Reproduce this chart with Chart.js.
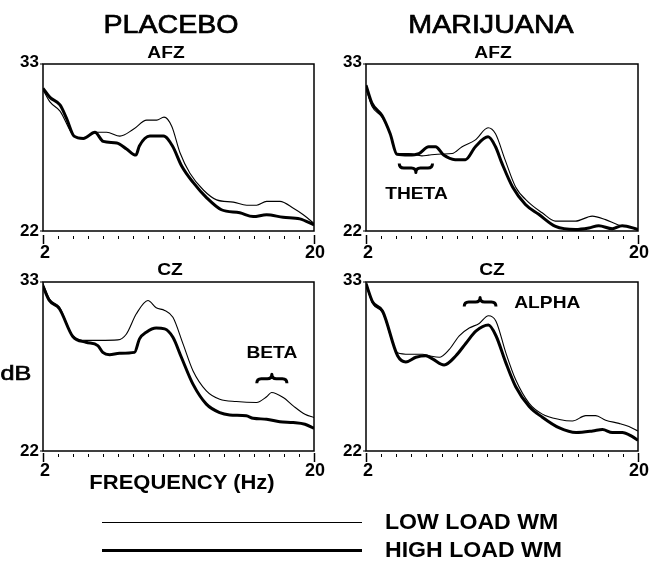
<!DOCTYPE html>
<html><head><meta charset="utf-8">
<script src="https://cdn.jsdelivr.net/npm/chart.js@4/dist/chart.umd.min.js"></script>
<style>
html,body{margin:0;padding:0;background:#fff;width:658px;height:566px;overflow:hidden}
#wrap{position:relative;width:658px;height:566px}
canvas{position:absolute;left:0;top:0}
.t{position:absolute;white-space:nowrap;font-family:"Liberation Sans",Arial,sans-serif;color:#000;line-height:1}
.heavy{-webkit-text-stroke:0.7px #000}
</style></head><body><div id="wrap"></div>
<script>
// ---- data ----
const xMin = 2, xMax = 20, yMin = 22, yMax = 33;
const xTickValues = [2,3,4,5,6,7,8,9,10,11,12,13,14,15,16,17,18,19,20];
const xTickLabels = ['2','20'];
const yTickLabels = ['22','33'];
const seriesNames = ['LOW LOAD WM','HIGH LOAD WM'];

const placeboAfzLowHz  = [2,2.46,3.13,4.06,4.68,5.56,6.23,7.11,8.0,8.89,9.55,10.04,10.55,11.1,11.76,12.65,13.53,14.64,15.53,16.19,16.85,17.74,18.63,19.29,20];
const placeboAfzLowDb  = [31.3,30.5,29.9,28.25,28.1,28.5,28.5,28.25,28.7,29.3,29.3,29.5,28.9,27.15,25.8,24.7,24.05,23.9,23.7,23.7,23.95,23.95,23.5,23.07,22.5];
const placeboAfzHighHz = [2,2.46,3.13,3.57,4.06,4.68,5.45,6.0,6.9,7.55,8.17,8.4,9.1,10.0,10.6,11.2,11.97,12.86,13.85,15.07,15.96,16.85,17.95,19.06,20];
const placeboAfzHighDb = [31.4,30.8,30.3,29.4,28.25,28.1,28.5,27.9,27.8,27.4,27.0,27.6,28.25,28.25,27.6,26.3,25.2,24.2,23.4,23.2,22.95,23.07,22.9,22.8,22.4];

const marijuanaAfzLowHz  = [2,2.4,3.06,3.6,4.05,4.83,5.7,6.15,7.03,7.7,8.36,9.24,10.08,10.57,11.2,11.9,12.8,13.66,14.54,15.86,16.97,17.85,18.7,19.4,20];
const marijuanaAfzLowDb  = [31.37,30.2,29.5,28.4,27.1,27.1,26.95,27.0,27.07,27.1,27.55,28.0,28.8,28.4,26.7,24.9,23.85,23.2,22.65,22.65,22.98,22.75,22.4,22.3,22.05];
const marijuanaAfzHighHz = [2,2.4,3.06,3.6,4.05,4.83,5.5,6.15,6.6,7.14,7.9,8.58,9.24,10.08,10.57,11.0,11.7,12.55,13.43,14.54,15.86,16.75,17.4,18.3,18.95,20];
const marijuanaAfzHighDb = [31.6,30.4,29.6,28.4,27.05,27.0,27.1,27.55,27.55,27.0,26.7,26.7,27.55,28.2,27.55,26.45,24.9,23.75,23.1,22.3,22.1,22.2,22.35,22.15,22.35,22.1];

const placeboCzLowHz  = [2,2.42,3.09,3.98,4.86,5.75,6.97,7.53,8.2,8.97,9.52,10.08,10.63,11.3,11.96,12.85,13.74,14.85,16.18,16.85,17.18,17.96,18.62,19.4,20];
const placeboCzLowDb  = [32.9,31.9,31.37,29.5,29.2,29.2,29.23,29.6,30.93,31.8,31.32,31.15,30.7,28.97,27.23,25.92,25.37,25.22,25.16,25.53,25.81,25.48,24.94,24.39,24.18];
const placeboCzHighHz = [2,2.42,3.09,3.98,4.86,5.64,5.97,6.42,7.08,8.08,8.41,8.86,9.52,10.08,10.63,11.19,11.96,12.85,13.74,14.4,15.5,15.96,16.85,17.73,18.62,19.4,20];
const placeboCzHighDb = [32.72,31.8,31.26,29.45,29.08,28.86,28.42,28.27,28.36,28.42,29.3,29.73,30.0,29.95,29.4,28.1,26.35,25.05,24.5,24.35,24.29,24.13,24.07,23.9,23.85,23.74,23.48];

const marijuanaCzLowHz  = [2,2.44,3.1,4.09,4.86,5.74,6.19,6.85,7.5,8.17,8.83,9.49,10.1,10.6,11.25,11.9,12.8,13.67,14.8,15.66,16.54,17.2,17.86,18.74,19.4,20];
const marijuanaCzLowDb  = [32.8,31.6,31.0,28.4,28.3,28.3,28.2,28.1,28.6,29.5,30.0,30.3,30.8,30.45,28.4,26.65,25.1,24.4,24.05,23.95,24.3,24.3,24.0,23.8,23.6,23.3];
const marijuanaCzHighHz = [2,2.44,3.1,4.09,4.64,5.3,5.96,6.4,7.17,7.95,8.6,9.27,10.1,10.6,11.25,11.9,12.8,13.67,14.8,15.9,17.0,17.65,18.3,18.96,19.6,20];
const marijuanaCzHighDb = [32.9,31.7,31.1,28.2,27.8,28.1,28.2,28.0,27.6,28.2,29.0,29.8,30.2,29.5,27.75,26.2,24.9,24.2,23.5,23.2,23.3,23.4,23.2,23.2,22.95,22.7];

// band annotations: [label, fromHz, toHz, braceDb, labelHz, labelDb, tip direction]
const thetaBand = ['THETA', 4.2, 6.4, 26.15, 5.34, 24.4, 1];
const betaBand  = ['BETA', 16.2, 18.2, 26.7, 17.2, 28.35, -1];
const alphaBand = ['ALPHA', 8.5, 10.6, 31.7, 14.0, 31.6, -1];

// ---- layout ----
const W = 658, H = 566;
const FONT = '"Liberation Sans", Arial, sans-serif';
const wrap = document.getElementById('wrap');

function pts(xs, ys){ return xs.map((x,i)=>({x:x, y:ys[i]})); }

function stretchText(ctx, text, x, y, font, sx, align){
  ctx.save();
  ctx.font = font;
  ctx.textBaseline = 'middle';
  ctx.textAlign = align || 'center';
  ctx.translate(x, y);
  ctx.scale(sx, 1);
  ctx.fillStyle = '#000';
  ctx.fillText(text, 0, 0);
  ctx.restore();
}

function brace(ctx, x1, x2, y, d){
  const h = 4.5, mid = (x1+x2)/2;
  ctx.save();
  ctx.strokeStyle = '#000';
  ctx.lineWidth = 3;
  ctx.lineJoin = 'round';
  ctx.beginPath();
  ctx.moveTo(x1, y - d*h);
  ctx.quadraticCurveTo(x1, y, x1 + h, y);
  ctx.lineTo(mid - h, y);
  ctx.quadraticCurveTo(mid, y, mid, y + d*h);
  ctx.quadraticCurveTo(mid, y, mid + h, y);
  ctx.lineTo(x2 - h, y);
  ctx.quadraticCurveTo(x2, y, x2, y - d*h);
  ctx.stroke();
  ctx.restore();
}

const framePlugin = {
  id: 'frame',
  afterDatasetsDraw(chart, args, opts){
    const ctx = chart.ctx, a = chart.chartArea;
    const xs = chart.scales.x, ys = chart.scales.y;
    ctx.save();
    ctx.strokeStyle = '#000';
    ctx.lineWidth = 1.5;
    ctx.strokeRect(a.left, a.top, a.right - a.left, a.bottom - a.top);
    const g = opts.tickGap;
    xTickValues.forEach(v=>{
      const px = Math.round(xs.getPixelForValue(v)) + 0.5;
      const major = (v === xMin || v === xMax);
      ctx.beginPath();
      ctx.lineWidth = major ? 1.5 : 1;
      ctx.moveTo(px, a.bottom + g - (major ? 1 : 0));
      ctx.lineTo(px, a.bottom + g + (major ? 8 : 3));
      ctx.stroke();
    });
    const xl = [xMin, xMax];
    xl.forEach((v,i)=>{
      stretchText(ctx, xTickLabels[i], xs.getPixelForValue(v) + (i===0?2:1), a.bottom + g + 17, 'bold 18px ' + FONT, 1.0);
    });
    const yl = [yMin, yMax];
    yl.forEach((v,i)=>{
      const py = ys.getPixelForValue(v);
      ctx.beginPath(); ctx.lineWidth = 1;
      ctx.moveTo(a.left - 3, py); ctx.lineTo(a.left, py); ctx.stroke();
      stretchText(ctx, yTickLabels[i], a.left - 4, py - (i===1?2:0), 'bold 17px ' + FONT, 1.0, 'right');
    });
    const b = opts.band;
    if (b){
      brace(ctx, xs.getPixelForValue(b[1]), xs.getPixelForValue(b[2]), ys.getPixelForValue(b[3]), b[6]);
      stretchText(ctx, b[0], xs.getPixelForValue(b[4]), ys.getPixelForValue(b[5]), 'bold 17px ' + FONT, 1.13);
    }
    ctx.restore();
  }
};

function makePanel(box, low, high, band, tickGap){
  const c = document.createElement('canvas');
  c.width = W; c.height = H;
  c.style.width = W + 'px'; c.style.height = H + 'px';
  wrap.appendChild(c);
  return new Chart(c, {
    type: 'line',
    data: { datasets: [
      { label: seriesNames[0], data: low, borderColor: '#000', borderWidth: 1.1, pointRadius: 0, cubicInterpolationMode: 'monotone', fill: false },
      { label: seriesNames[1], data: high, borderColor: '#000', borderWidth: 3, pointRadius: 0, cubicInterpolationMode: 'monotone', fill: false }
    ]},
    options: {
      responsive: false, animation: false, devicePixelRatio: 1,
      layout: { padding: { left: box[0], top: box[2], right: W - box[1], bottom: H - box[3] } },
      scales: {
        x: { type: 'linear', min: xMin, max: xMax, display: false },
        y: { type: 'linear', min: yMin, max: yMax, display: false }
      },
      plugins: { legend: { display: false }, tooltip: { enabled: false }, frame: { band: band, tickGap: tickGap } }
    },
    plugins: [framePlugin]
  });
}

makePanel([43, 314, 64, 231], pts(placeboAfzLowHz, placeboAfzLowDb), pts(placeboAfzHighHz, placeboAfzHighDb), null, 5);
makePanel([366, 638, 64, 231], pts(marijuanaAfzLowHz, marijuanaAfzLowDb), pts(marijuanaAfzHighHz, marijuanaAfzHighDb), thetaBand, 5);
makePanel([43, 314, 282, 451], pts(placeboCzLowHz, placeboCzLowDb), pts(placeboCzHighHz, placeboCzHighDb), betaBand, 3);
makePanel([366, 638, 282, 451], pts(marijuanaCzLowHz, marijuanaCzLowDb), pts(marijuanaCzHighHz, marijuanaCzHighDb), alphaBand, 3);

// ---- page text ----
function txt(s, cx, cy, size, weight, sx, align, cls){
  const d = document.createElement('div');
  d.className = 't' + (cls ? ' ' + cls : '');
  d.textContent = s;
  d.style.fontSize = size + 'px';
  d.style.fontWeight = weight;
  d.style.left = cx + 'px';
  d.style.top = cy + 'px';
  if (align === 'left'){
    d.style.transformOrigin = '0 50%';
    d.style.transform = 'translate(0,-50%) scaleX(' + sx + ')';
  } else {
    d.style.transform = 'translate(-50%,-50%) scaleX(' + sx + ')';
  }
  wrap.appendChild(d);
}
function hline(x, y, w, h){
  const d = document.createElement('div');
  d.style.cssText = 'position:absolute;background:#000;left:'+x+'px;top:'+y+'px;width:'+w+'px;height:'+h+'px';
  wrap.appendChild(d);
}

txt('PLACEBO', 171, 24, 26, 'normal', 1.1, null, 'heavy');
txt('MARIJUANA', 491, 24, 26, 'normal', 1.1, null, 'heavy');
txt('AFZ', 166, 53, 16, 'bold', 1.2);
txt('AFZ', 493, 53, 16, 'bold', 1.2);
txt('CZ', 170, 270, 16, 'bold', 1.2);
txt('CZ', 492, 270, 16, 'bold', 1.2);
txt('dB', 16, 372, 21, 'normal', 1.2, null, 'heavy');
txt('FREQUENCY (Hz)', 182, 482, 20, 'bold', 1.1);
hline(102, 522, 260, 1);
hline(102, 548.5, 260, 3);
txt(seriesNames[0], 385, 522, 22, 'bold', 1.05, 'left');
txt(seriesNames[1], 385, 550, 22, 'bold', 1.05, 'left');
</script>
</body></html>
